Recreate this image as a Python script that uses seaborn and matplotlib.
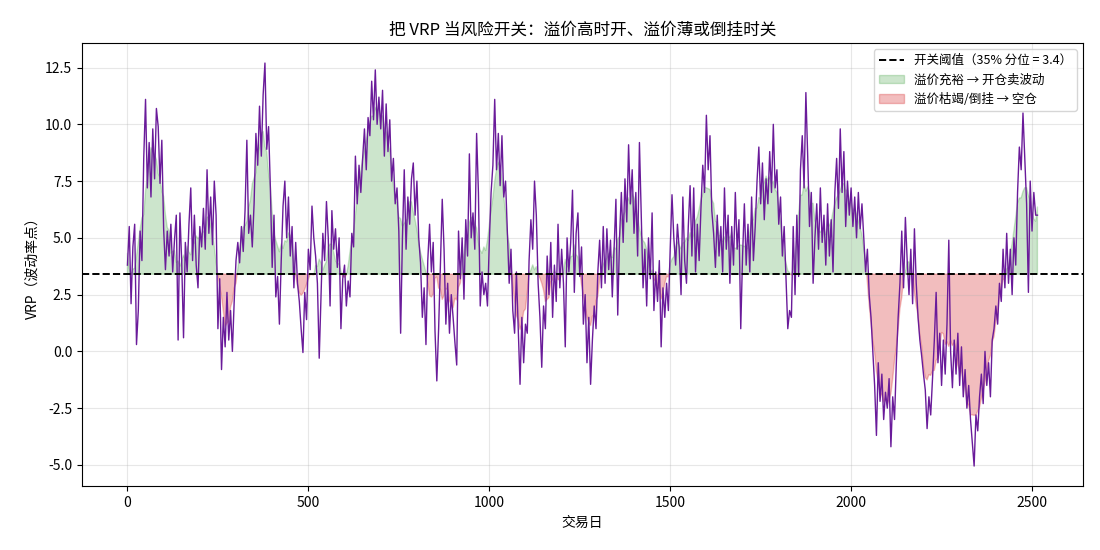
import numpy as np
import pandas as pd
import matplotlib
matplotlib.use('Agg')
import matplotlib.pyplot as plt
import seaborn as sns

# VRP readings, one every 5 trading days
vrp = [
    3.8, 5.5, 2.1, 4.6, 5.6, 0.3, 1.8, 5.3, 4.0, 8.5, 11.1, 7.2, 9.2, 6.8, 9.8, 7.6, 10.7, 9.9, 7.4, 9.3,
    5.4, 3.6, 5.3, 4.2, 5.6, 3.5, 4.9, 6.0, 0.5, 6.1, 3.9, 0.6, 4.8, 3.5, 5.6, 7.2, 4.0, 6.0, 3.8, 2.8,
    5.5, 4.6, 6.3, 4.5, 8.0, 5.2, 6.8, 4.7, 7.5, 6.0, 1.0, 3.2, -0.8, 1.5, 0.2, 2.6, 0.5, 1.8, 0.0, 2.2,
    4.0, 4.8, 3.9, 5.5, 4.4, 6.2, 9.3, 5.2, 6.0, 4.6, 6.5, 9.6, 8.2, 10.8, 8.6, 11.3, 12.7, 8.9, 9.9, 7.2,
    3.7, 6.0, 2.4, 3.3, 1.2, 4.0, 6.4, 7.5, 5.0, 6.8, 4.2, 5.5, 2.8, 4.8, 3.0, 2.2, 1.0, -0.05, 2.6, 1.4,
    4.5, 3.6, 6.4, 5.0, 4.2, 3.0, -0.3, 2.5, 5.2, 4.0, 6.6, 5.0, 2.0, 6.2, 4.5, 5.4, 3.7, 5.0, 1.0, 3.2,
    3.8, 2.0, 3.1, 2.4, 5.2, 4.6, 8.6, 6.5, 8.2, 7.0, 8.5, 9.8, 8.0, 10.3, 9.5, 11.9, 10.2, 12.4, 10.0, 11.2,
    9.8, 11.5, 8.6, 10.9, 8.8, 10.2, 7.5, 8.5, 6.5, 7.2, 5.3, 0.8, 5.0, 8.0, 4.5, 6.8, 5.6, 7.6, 8.3, 6.0,
    7.5, 5.0, 3.9, 1.5, 2.8, 0.3, 4.0, 5.6, 3.5, 4.8, 0.9, -1.3, 1.0, 3.8, 6.7, 4.5, 1.2, 3.0, 0.8, 2.5,
    1.5, 0.4, -0.6, 5.3, 3.2, 5.0, 2.3, 5.8, 4.2, 8.7, 5.0, 6.1, 4.5, 9.6, 7.0, 2.0, 3.5, 2.5, 3.0, 2.0,
    4.8, 7.0, 8.2, 11.1, 8.0, 9.6, 7.3, 9.5, 6.8, 7.5, 5.3, 3.0, 4.5, 1.8, 0.8, 3.5, 1.0, -1.45, 1.5, -0.5,
    1.2, 0.8, 4.0, 5.8, 4.5, 7.5, 6.0, 3.0, 1.5, -0.7, 2.0, 1.0, 4.2, 2.5, 4.8, 1.5, 3.8, 2.2, 5.6, 2.8,
    4.5, 3.0, 0.2, 5.0, 3.5, 4.8, 7.1, 2.6, 5.2, 6.1, 3.3, 4.6, 1.2, 2.5, -0.5, 1.5, -1.45, 0.5, 2.0, 1.0,
    3.5, 4.9, 2.8, 5.5, 3.0, 5.4, 3.6, 4.9, 2.4, 4.6, 6.7, 1.6, 5.0, 7.0, 4.8, 7.6, 5.7, 9.1, 6.5, 8.0,
    5.2, 7.0, 4.2, 9.2, 6.0, 2.8, 4.5, 2.0, 5.0, 3.2, 6.1, 1.8, 3.5, 2.2, 4.0, 0.2, 2.8, 1.5, 3.0, 1.8,
    4.5, 6.9, 5.0, 3.8, 5.6, 4.5, 2.5, 6.8, 4.0, 3.0, 5.5, 7.3, 4.2, 7.2, 3.5, 5.6, 4.0, 6.3, 8.2, 7.0,
    10.4, 8.0, 9.5, 6.2, 5.2, 3.7, 6.0, 4.2, 5.5, 3.5, 7.2, 4.5, 6.0, 3.0, 5.5, 3.8, 7.0, 4.5, 5.8, 1.0,
    4.2, 6.5, 3.8, 5.6, 3.5, 6.8, 4.0, 5.5, 7.5, 9.0, 6.5, 8.3, 5.8, 7.6, 6.5, 8.8, 7.0, 10.0, 7.2, 8.0,
    5.6, 6.8, 4.2, 5.5, 3.2, 1.0, 1.8, 1.5, 5.5, 2.5, 6.0, 3.3, 8.0, 9.5, 7.2, 11.4, 8.6, 5.5, 7.0, 3.0,
    5.0, 6.5, 4.5, 7.2, 4.8, 6.0, 3.8, 6.5, 4.2, 5.8, 3.5, 7.0, 8.5, 6.3, 9.8, 7.0, 8.8, 5.5, 7.5, 6.0,
    7.2, 5.5, 6.8, 5.0, 7.0, 5.4, 6.5, 5.0, 3.5, 4.5, 2.5, 1.5, 0.0, -1.5, -3.7, -0.5, -2.2, -1.0, -3.0, -1.8,
    -2.5, -1.2, -4.2, -2.0, -3.0, -0.5, 1.5, 3.0, 5.3, 2.8, 5.9, 4.0, 2.5, 4.5, 2.1, 5.4, 3.0, 1.5, 0.5, -0.2,
    -1.0, -1.7, -3.4, -2.0, -2.8, -1.2, 0.5, 2.6, -0.5, 0.8, -1.5, 0.5, -1.0, 1.2, 4.9, 0.0, -1.6, 0.5, -1.0, 0.8,
    -1.5, 0.2, -2.0, -0.8, -2.5, -1.5, -3.0, -4.0, -5.05, -2.8, -3.5, -2.0, -1.0, -2.3, 0.0, -1.5, -0.5, -2.0, 0.5, 1.0,
    2.0, 1.2, 3.0, 2.2, 4.5, 2.8, 5.2, 3.0, 4.5, 2.5, 5.0, 3.8, 7.0, 9.0, 8.0, 10.5, 8.5, 6.5, 2.6, 7.5,
    5.3, 7.0, 6.0, 6.0,
]
days = np.arange(0, 5 * len(vrp), 5)
threshold = 3.4

df = pd.DataFrame({'day': days, 'vrp': vrp})
# smoothed regime used for the shaded areas
df['regime'] = df['vrp'].rolling(9, center=True, min_periods=1).mean()

plt.rcParams['font.family'] = ['Noto Sans CJK SC', 'DejaVu Sans']
plt.rcParams['axes.unicode_minus'] = False

fig, ax = plt.subplots(figsize=(11, 5.5), dpi=100)

ax.fill_between(df['day'], df['regime'], threshold, where=df['regime'] >= threshold,
                interpolate=True, color='green', alpha=0.2, label='溢价充裕 → 开仓卖波动')
ax.fill_between(df['day'], df['regime'], threshold, where=df['regime'] < threshold,
                interpolate=True, color='tab:red', alpha=0.3, label='溢价枯竭/倒挂 → 空仓')
sns.lineplot(data=df, x='day', y='vrp', ax=ax, color='#6a1b9a', linewidth=1.0)
ax.axhline(threshold, color='black', linestyle='--', linewidth=1.4,
           label='开关阈值（35% 分位 = 3.4）')

ax.set_title('把 VRP 当风险开关：溢价高时开、溢价薄或倒挂时关', fontsize=12)
ax.set_xlabel('交易日', fontsize=10)
ax.set_ylabel('VRP（波动率点）', fontsize=10)
ax.grid(True, alpha=0.3)

handles, labels = ax.get_legend_handles_labels()
order = [labels.index('开关阈值（35% 分位 = 3.4）'),
         labels.index('溢价充裕 → 开仓卖波动'),
         labels.index('溢价枯竭/倒挂 → 空仓')]
ax.legend([handles[i] for i in order], [labels[i] for i in order],
          loc='upper right', fontsize=9)

fig.subplots_adjust(left=0.0745, right=0.9845, top=0.922, bottom=0.116)
plt.savefig('out.png', dpi=100)
